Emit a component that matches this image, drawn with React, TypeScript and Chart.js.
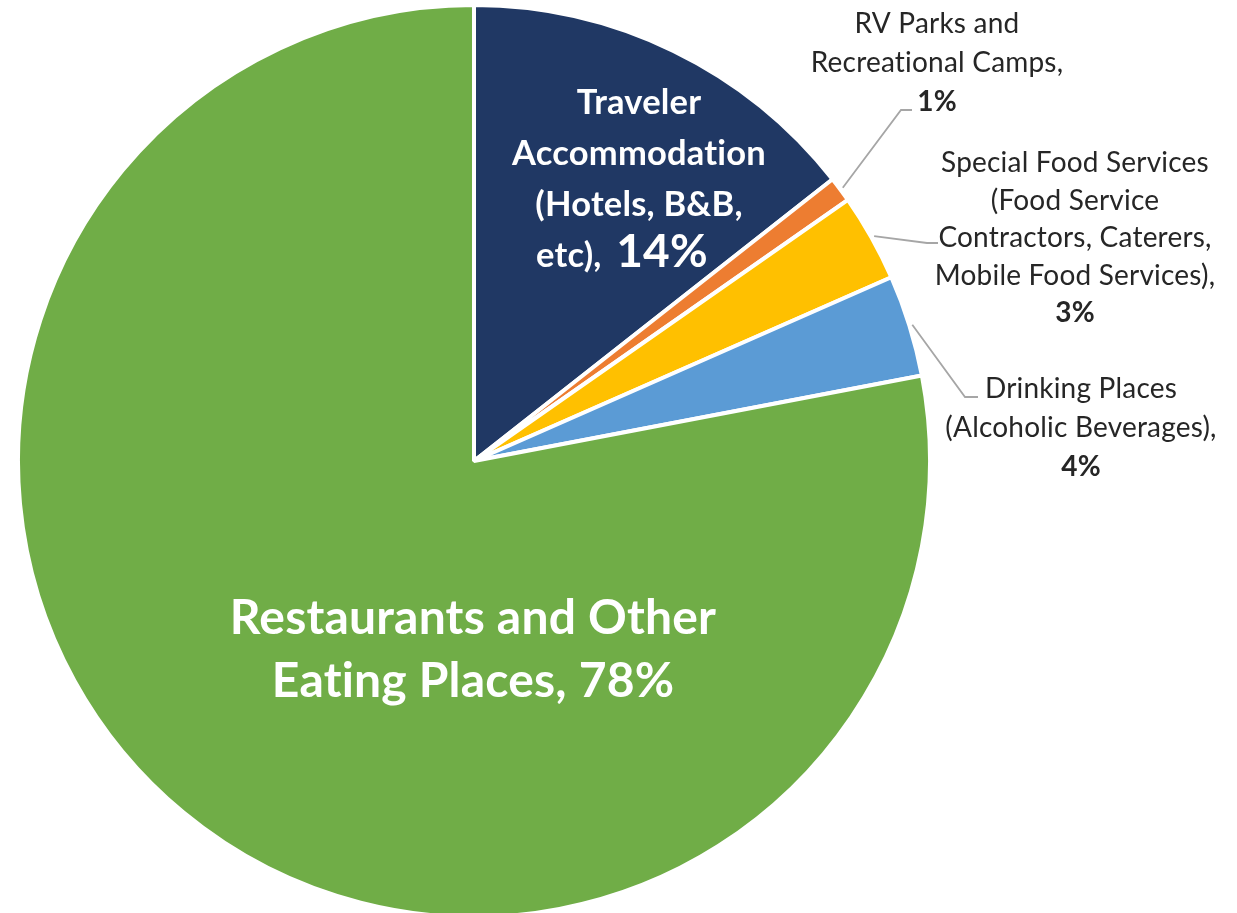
import React, { useEffect, useRef } from "react";
import { Chart, registerables } from "chart.js";

Chart.register(...registerables);

// ---- data ----
const categories = [
  "Traveler Accommodation (Hotels, B&B, etc)",
  "RV Parks and Recreational Camps",
  "Special Food Services (Food Service Contractors, Caterers, Mobile Food Services)",
  "Drinking Places (Alcoholic Beverages)",
  "Restaurants and Other Eating Places",
];
const values = [14.4, 0.9, 3.1, 3.6, 78.0];
const percentLabels = ["14%", "1%", "3%", "4%", "78%"];
const sliceColors = ["#203864", "#ED7D31", "#FFC000", "#5B9BD5", "#70AD47"];
const labelLines = [
  ["Traveler", "Accommodation", "(Hotels, B&B,", "etc),"],
  ["RV Parks and", "Recreational Camps,"],
  ["Special Food Services", "(Food Service", "Contractors, Caterers,", "Mobile Food Services),"],
  ["Drinking Places", "(Alcoholic Beverages),"],
  ["Restaurants and Other", "Eating Places,"],
];

// ---- label styling / placement ----
const FONT = "Lato, 'Open Sans', sans-serif";
type LabelStyle = {
  x: number;
  y: number;
  lh: number;
  size: number;
  weight: string;
  color: string;
  inline: boolean;
  pctSize: number;
  gap: number;
  lastX?: number;
  leader?: [number, number, number];
};
const labelStyles: LabelStyle[] = [
  { x: 639, y: 102, lh: 51, size: 34.5, weight: "bold", color: "#ffffff", inline: true, pctSize: 46, gap: 6, lastX: 622 },
  { x: 937, y: 23, lh: 39, size: 28, weight: "normal", color: "#262626", inline: false, pctSize: 28, gap: 0, leader: [901, 110, 912] },
  { x: 1075, y: 162, lh: 37.5, size: 28, weight: "normal", color: "#262626", inline: false, pctSize: 28, gap: 0, leader: [927, 243, 938] },
  { x: 1081, y: 388, lh: 39, size: 28, weight: "normal", color: "#262626", inline: false, pctSize: 28, gap: 0, leader: [965, 397, 978] },
  { x: 473, y: 617, lh: 63, size: 48, weight: "bold", color: "#ffffff", inline: true, pctSize: 48, gap: 0 },
];

const labelPlugin = {
  id: "sliceLabels",
  afterDatasetsDraw(chart: any) {
    const ctx = chart.ctx as CanvasRenderingContext2D;
    const meta = chart.getDatasetMeta(0);
    ctx.save();
    (ctx as any).letterSpacing = "0.2px";
    meta.data.forEach((arc: any, i: number) => {
      const st = labelStyles[i];
      const lines = labelLines[i];
      if (st.leader) {
        const mid = (arc.startAngle + arc.endAngle) / 2;
        const r = arc.outerRadius + 3;
        const sx = arc.x + Math.cos(mid) * r;
        const sy = arc.y + Math.sin(mid) * r;
        ctx.strokeStyle = "#A6A6A6";
        ctx.lineWidth = 1.8;
        ctx.beginPath();
        ctx.moveTo(sx, sy);
        ctx.lineTo(st.leader[0], st.leader[1]);
        ctx.lineTo(st.leader[2], st.leader[1]);
        ctx.stroke();
      }
      ctx.fillStyle = st.color;
      ctx.textBaseline = "alphabetic";
      const capOf = (s: number) => s * 0.36;
      lines.forEach((line, k) => {
        const cy = st.y + k * st.lh;
        const isLast = k === lines.length - 1;
        if (isLast && st.inline) {
          const f1 = `${st.weight} ${st.size}px ${FONT}`;
          const f2 = `bold ${st.pctSize}px ${FONT}`;
          ctx.font = f1;
          const w1 = ctx.measureText(line + " ").width + st.gap;
          ctx.font = f2;
          const w2 = ctx.measureText(percentLabels[i]).width;
          const cx = st.lastX ?? st.x;
          const left = cx - (w1 + w2) / 2;
          ctx.textAlign = "left";
          ctx.font = f1;
          ctx.fillText(line + " ", left, cy + capOf(st.size));
          ctx.font = f2;
          ctx.fillText(percentLabels[i], left + w1, cy + capOf(st.size));
        } else {
          ctx.textAlign = "center";
          ctx.font = `${st.weight} ${st.size}px ${FONT}`;
          ctx.fillText(line, st.x, cy + capOf(st.size));
        }
      });
      if (!st.inline) {
        const cy = st.y + lines.length * st.lh;
        ctx.textAlign = "center";
        ctx.font = `bold ${st.pctSize}px ${FONT}`;
        ctx.fillText(percentLabels[i], st.x, cy + capOf(st.pctSize));
      }
    });
    ctx.restore();
  },
};

export default function App() {
  const canvasRef = useRef<HTMLCanvasElement | null>(null);

  useEffect(() => {
    document.body.style.margin = "0";
    document.body.style.overflow = "hidden";
    const canvas = canvasRef.current;
    if (!canvas) return;
    const chart = new Chart(canvas, {
      type: "pie",
      data: {
        labels: categories,
        datasets: [
          {
            data: values,
            backgroundColor: sliceColors,
            borderColor: "#ffffff",
            borderWidth: 4,
            radius: 456,
          } as any,
        ],
      },
      options: {
        animation: false,
        responsive: true,
        maintainAspectRatio: false,
        layout: { padding: { left: 20, right: 309, top: 9, bottom: 0 } },
        plugins: {
          legend: { display: false },
          tooltip: { enabled: false },
        },
      },
      plugins: [labelPlugin],
    });
    return () => chart.destroy();
  }, []);

  return (
    <div style={{ position: "fixed", left: 0, top: 0, width: 1237, height: 913, background: "#ffffff" }}>
      <canvas ref={canvasRef} />
    </div>
  );
}
